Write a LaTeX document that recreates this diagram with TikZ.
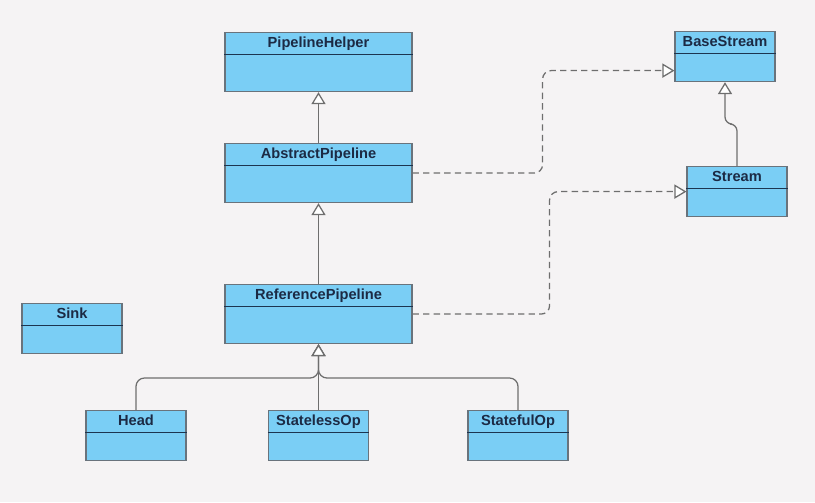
\documentclass[tikz,border=0pt]{standalone}
\usepackage{fontspec}
\newfontfamily\classfont{Liberation Sans}
\usepackage{tikz}
\usetikzlibrary{arrows.meta,positioning,shapes.multipart,calc}
\definecolor{canvas}{RGB}{245,243,244}
\definecolor{classblue}{RGB}{122,206,245}
\definecolor{classline}{RGB}{105,115,124}
\definecolor{classtext}{RGB}{28,42,68}
\definecolor{splitnavy}{RGB}{28,53,80}
\definecolor{linkgray}{RGB}{110,110,110}
\tikzset{
  classbox/.style={rectangle split, rectangle split parts=2, rectangle split draw splits=false,
                   draw=classline, line width=0.8pt, fill=classblue, text=classtext,
                   inner xsep=0pt, inner ysep=1.2pt, anchor=north,
                   font=\classfont\bfseries\fontsize{10.4}{12.6}\selectfont,
                   execute at begin node=\strut},
  bigclass/.style={classbox, minimum width=4.675cm, rectangle split empty part height=23pt},
  smallclass/.style={classbox, minimum width=2.5cm, rectangle split empty part height=16.6pt},
  splitline/.style={draw=splitnavy, line width=0.9pt},
  inherit/.style={-{Triangle[length=8.5pt, width=10pt, fill=white]}, draw=linkgray, line width=0.9pt,
                  rounded corners=6pt},
  realize/.style={inherit, dashed, dash pattern=on 4.5pt off 3pt},
}
\begin{document}
\begin{tikzpicture}[x=0.025cm, y=-0.025cm]
\fill[canvas] (0,0) rectangle (815,502);

% classes
\node[bigclass] (ph) at (318.5,32) {PipelineHelper};
\node[bigclass] (ab) at (318.5,143) {AbstractPipeline};
\node[bigclass] (rp) at (318.5,284) {ReferencePipeline};
\node[smallclass] (bs) at (725,31) {BaseStream};
\node[smallclass] (st) at (737,166) {Stream};
\node[smallclass] (sk) at (72,303) {Sink};
\node[smallclass] (hd) at (136,410) {Head};
\node[smallclass] (sl) at (318.5,410) {StatelessOp};
\node[smallclass] (sf) at (518,410) {StatefulOp};

\foreach \c in {ph,ab,rp,bs,st,sk,hd,sl,sf}
  \draw[splitline] (\c.text split west) -- (\c.text split east);

\coordinate (fork) at (318.5,378);

% generalization
\draw[inherit] (ab.north) -- (ph.south);
\draw[inherit] (rp.north) -- (ab.south);
\draw[inherit] (sl.north) -- (rp.south);
\draw[inherit] (hd.north) |- (fork) -- (rp.south);
\draw[inherit] (sf.north) |- (fork) -- (rp.south);
\draw[inherit, rounded corners=5pt] (st.north) -- ++(0,-42) -| (bs.south);

% realization
\draw[realize] (ab.east) -- ++(130,0) |- ([yshift=-0.35cm]bs.west);
\draw[realize] (rp.east) -- ++(137,0) |- (st.west);
\end{tikzpicture}
\end{document}
